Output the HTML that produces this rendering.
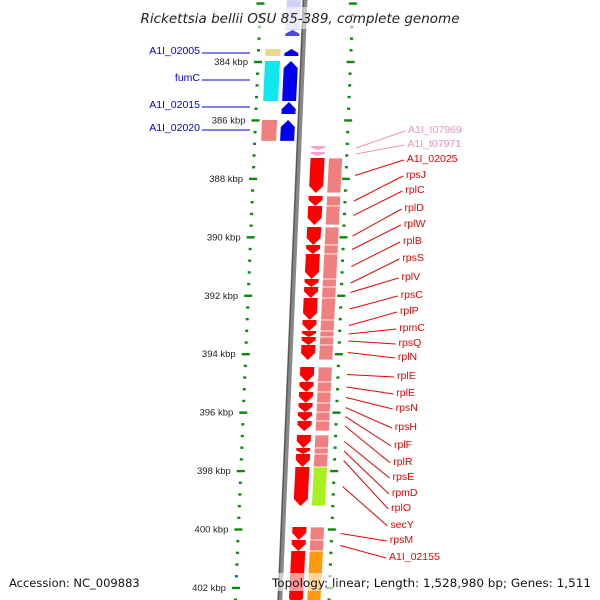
<!DOCTYPE html>
<html><head><meta charset="utf-8"><style>
html,body{margin:0;padding:0;background:#fff;}
svg{display:block;font-family:"Liberation Sans","DejaVu Sans",sans-serif;}
.dv{font-family:"DejaVu Sans","Liberation Sans",sans-serif;}
</style></head><body>
<svg id="chart" width="600" height="600" viewBox="0 0 600 600" xmlns="http://www.w3.org/2000/svg">
<g id="ticks"></g>
<g id="axis"></g>
<g id="genes"></g>
<g id="labels"></g>
<g id="overlay">
  <rect x="135" y="7" width="330" height="22" fill="#fff" opacity="0.55"/>
  <text class="dv" x="300" y="23" text-anchor="middle" font-size="13.5" font-style="italic" fill="#222">Rickettsia bellii OSU 85-389, complete genome</text>
  <rect x="5" y="573" width="140" height="18" fill="#fff" opacity="0.6"/>
  <rect x="268" y="573" width="328" height="18" fill="#fff" opacity="0.6"/>
  <text class="dv" x="9" y="587" font-size="11.5" fill="#111">Accession: NC_009883</text>
  <text class="dv" x="591" y="587" font-size="11.5" text-anchor="end" fill="#111" textLength="319" lengthAdjust="spacingAndGlyphs">Topology: linear; Length: 1,528,980 bp; Genes: 1,511</text>
</g>
</svg>
<script>
// ---- data ----
const tickKbp = [384,386,388,390,392,394,396,398,400,402];
const tickLabels = ["384 kbp","386 kbp","388 kbp","390 kbp","392 kbp","394 kbp","396 kbp","398 kbp","400 kbp","402 kbp"];
// forward strand genes (kbp start/end)
const fwdNames = ["A1I_02000","A1I_02005","fumC","A1I_02015","A1I_02020"];
const fwdStart = [381.88,383.555,383.966,385.369,385.985];
const fwdEnd   = [383.11,383.795,385.335,385.78,386.70];
const fwdBox   = ["none","#e8d890","#10e8f0","none","#f08080"];
const fwdLabeled = [false,true,true,true,true];
// reverse strand genes
const revNames = ["A1I_t07969","A1I_t07971","A1I_02025","rpsJ","rplC","rplD","rplW","rplB","rpsS","rplV","rpsC","rplP","rpmC","rpsQ","rplN","rplE","rplE","rpsN","rpsH","rplF","rplR","rpsE","rpmD","rplO","secY","rpsM","A1I_02155","A1I_02160"];
const revStart = [386.875,387.08,387.285,388.586,388.928,389.647,390.263,390.571,391.427,391.70,392.077,392.83,393.206,393.411,393.685,394.439,394.95,395.294,395.67,395.98,396.286,396.765,397.21,397.415,397.86,399.914,400.359,400.735];
const revEnd   = [387.01,387.217,388.483,388.928,389.58,390.263,390.571,391.427,391.70,392.077,392.83,393.206,393.411,393.685,394.199,394.95,395.294,395.67,395.98,396.286,396.628,397.21,397.415,397.86,399.195,400.359,400.735,402.6];
const revBox   = ["none","none","#f08080","#f08080","#f08080","#f08080","#f08080","#f08080","#f08080","#f08080","#f08080","#f08080","#f08080","#f08080","#f08080","#f08080","#f08080","#f08080","#f08080","#f08080","#f08080","#f08080","#f08080","#f08080","#a8f020","#f08080","#f08080","#ff9a10"];
const revColor = ["#f8a0d0","#f8a0d0","#ff0000","#ff0000","#ff0000","#ff0000","#ff0000","#ff0000","#ff0000","#ff0000","#ff0000","#ff0000","#ff0000","#ff0000","#ff0000","#ff0000","#ff0000","#ff0000","#ff0000","#ff0000","#ff0000","#ff0000","#ff0000","#ff0000","#ff0000","#ff0000","#ff0000","#ff0000"];
const revLabelY = [129,143,158,174,189,207,223,240,257,276,294,310,327,342,356,375,392,407,426,444,461,476,492,507,524,539,556,null];
const fwdLabelY = [0,50,77,104,127];

// ---- scales ----
const NS="http://www.w3.org/2000/svg";
const y = k => 62 + (k-384)*29.22;
const axisX = yy => 305 - 0.042*yy;
const leftDotX = yy => 260.6 - 0.042*yy;
const rightDotX = yy => 353 - 0.04*yy;
const redX = yy => 318.3 - 0.049*yy;
const rboxX = yy => 336.3 - 0.049*yy;
const blueX = yy => 287 - 0.049*yy;
const lboxX = yy => 268 - 0.049*yy;
function el(tag, attrs, parent){const e=document.createElementNS(NS,tag);for(const k in attrs)e.setAttribute(k,attrs[k]);parent.appendChild(e);return e;}

const ticksG=document.getElementById('ticks'), axisG=document.getElementById('axis'), genesG=document.getElementById('genes'), labelsG=document.getElementById('labels');

// axis
const ax=el('line',{x1:axisX(-5),y1:-5,x2:axisX(605),y2:605,stroke:'#888','stroke-width':5},axisG);


el('line',{x1:axisX(-5)-1.5,y1:-5,x2:axisX(605)-1.5,y2:605,stroke:'#555','stroke-width':1.2},axisG);

// dots & ticks
for(let k=382;k<=403;k+=0.4){
  const yy=y(k); if(yy<-5||yy>605) continue;
  const major = Math.abs((k-384)/2 - Math.round((k-384)/2))<0.01;
  [leftDotX, rightDotX].forEach(f=>{
    const x=f(yy);
    const r=el('rect',{x: major? x-4 : x-1.5, y: yy-1.2, width: major?8:3, height: 2.4, fill:'#0a8a0a'},ticksG);
    
    
  });
}
tickKbp.forEach((k,i)=>{
  const yy=y(k);
  const t=el('text',{x:leftDotX(yy)-10,y:yy+3,'font-size':9.5,'text-anchor':'end',fill:'#222'},ticksG);
  t.textContent=tickLabels[i];
  
  
});

function arrow(xf, y0, y1, w, dir){
  const h=y1-y0, tip=Math.min(7,h*0.6);
  let pts;
  if(dir<0){ pts=[[0,y0],[w,y0],[w,y1-tip],[w/2,y1],[0,y1-tip]]; }
  else { pts=[[0,y1],[w,y1],[w,y0+tip],[w/2,y0],[0,y0+tip]]; }
  return pts.map(p=>(xf(p[1])+p[0]).toFixed(1)+','+p[1].toFixed(1)).join(' ');
}
function box(xf,y0,y1,w){
  return [[0,y0],[w,y0],[w,y1],[0,y1]].map(p=>(xf(p[1])+p[0]).toFixed(1)+','+p[1].toFixed(1)).join(' ');
}

// forward genes
fwdNames.forEach((n,i)=>{
  const y0=y(fwdStart[i]), y1=y(fwdEnd[i]);
  const faded = i===0;
  if(faded){
    const f=el('polygon',{points:box(blueX,y0,y1-6,14),fill:'#d0d0f6'},genesG);
    
    
    const c=el('polygon',{points:arrow(blueX,y1-6,y1,14,1),fill:'#4a4af0'},genesG);
    
    
  } else {
    const a=el('polygon',{points:arrow(blueX,y0,y1,14,1),fill:'#0000ee'},genesG);
    
    
  }
  if(fwdBox[i]!=='none'){
    const b=el('polygon',{points:box(lboxX,y0,y1,15),fill:fwdBox[i]},genesG);
    
    
  }
  if(fwdLabeled[i]){
    const ly=fwdLabelY[i];
    const t=el('text',{x:200,y:ly+4,'font-size':10.5,'text-anchor':'end',fill:'#0000dd'},labelsG);
    t.textContent=n;
    
    
    const l=el('line',{x1:202,y1:ly+3,x2:250,y2:ly+3,stroke:'#0000dd','stroke-width':1},labelsG);
    
    
  }
});

// reverse genes
revNames.forEach((n,i)=>{
  const y0=y(revStart[i]), y1=y(revEnd[i]);
  const a=el('polygon',{points:arrow(redX,y0,y1,14,-1),fill:revColor[i]},genesG);
  
  
  if(revBox[i]!=='none'){
    const b=el('polygon',{points:box(rboxX,y0,y1,14),fill:revBox[i],stroke:'#fff','stroke-width':0.8},genesG);
    
    
  }
  const ly=revLabelY[i];
  if(ly===null) return;
  const lx=408-0.0445*(ly-129);
  const col=revColor[i]==='#ff0000'?'#ee0000':'#f090c0';
  const t=el('text',{x:lx,y:ly+4,'font-size':10.5,fill:col},labelsG);
  t.textContent=n;
  
  
  const gm=(y0+y1)/2;
  const l=el('line',{x1:lx-3,y1:ly+2,x2:rightDotX(gm)+9,y2:gm,stroke:col,'stroke-width':1},labelsG);
  
  
});
</script>
</body></html>
